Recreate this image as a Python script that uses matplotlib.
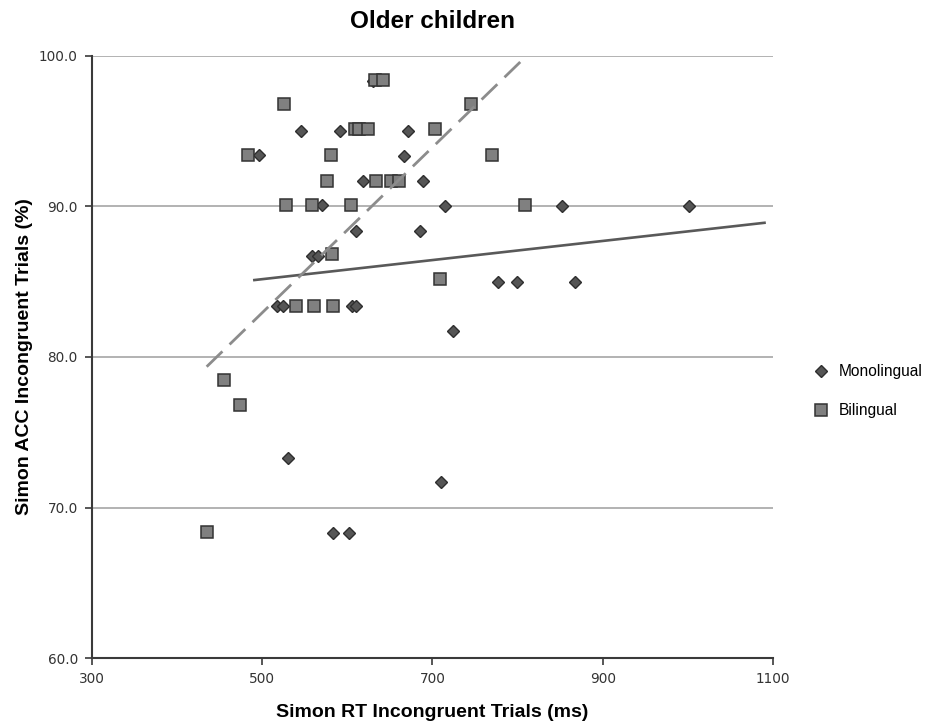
import matplotlib
matplotlib.use("Agg")
import matplotlib.pyplot as plt

# Monolingual children (diamonds)
mono_rt = [630, 545.6, 591, 671.6, 496, 666.4, 618.9, 652, 689, 570, 715.2, 852.4,
           1001.8, 610, 686, 559.2, 566.2, 517.5, 524.9, 605.3, 610, 776.7, 799.8,
           868, 724.1, 530, 710.5, 583.8, 602.1]
mono_acc = [98.3, 95.0, 95.0, 95.0, 93.4, 93.3, 91.7, 91.7, 91.7, 90.1, 90.0, 90.0,
            90.0, 88.35, 88.35, 86.7, 86.7, 83.4, 83.4, 83.4, 83.4, 85.0, 85.0,
            85.0, 81.7, 73.3, 71.7, 68.3, 68.3]

# Bilingual children (squares)
bi_rt = [632.9, 642.2, 526, 745.6, 608.7, 614, 624.6, 703.5, 484, 580.7, 769.7,
         576.8, 633.3, 650.9, 661.4, 527.8, 559, 604.8, 808.8, 582.6, 708.5,
         539.8, 561.2, 583.8, 455.9, 474.6, 435.2]
bi_acc = [98.4, 98.4, 96.8, 96.8, 95.1, 95.1, 95.1, 95.1, 93.4, 93.4, 93.4,
          91.7, 91.7, 91.7, 91.7, 90.1, 90.1, 90.1, 90.1, 86.8, 85.2,
          83.4, 83.4, 83.4, 78.5, 76.8, 68.4]

# linear trend lines (end points)
mono_trend_x = [491, 1090]
mono_trend_y = [85.1, 88.9]
bi_trend_x = [435, 811]
bi_trend_y = [79.35, 100.0]

x_ticks = [300, 500, 700, 900, 1100]
y_ticks = [60, 70, 80, 90, 100]

fig = plt.figure(figsize=(9.3, 7.23), dpi=100)
ax = fig.add_axes([0.0986, 0.0895, 0.7326, 0.8337])

ax.plot(mono_rt, mono_acc, linestyle="none", marker="D", markersize=6.2,
        markerfacecolor="#555555", markeredgecolor="#2e2e2e", markeredgewidth=1,
        label="Monolingual", zorder=3)
ax.plot(bi_rt, bi_acc, linestyle="none", marker="s", markersize=9.2,
        markerfacecolor="#808080", markeredgecolor="#333333", markeredgewidth=1.1,
        label="Bilingual", zorder=4)

ax.plot(mono_trend_x, mono_trend_y, color="#595959", linewidth=1.9, zorder=5)
ax.plot(bi_trend_x, bi_trend_y, color="#8c8c8c", linewidth=2.0,
        linestyle=(0, (7.9, 3.6)), zorder=5)

ax.set_xlim(300, 1100)
ax.set_ylim(60, 100)
ax.set_xticks(x_ticks)
ax.set_yticks(y_ticks)
ax.set_xticklabels([str(t) for t in x_ticks])
ax.set_yticklabels([f"{t:.1f}" for t in y_ticks])

for y in y_ticks[1:]:
    ax.axhline(y, color="#a6a6a6", linewidth=1.2, zorder=1)

for s in ["top", "right"]:
    ax.spines[s].set_visible(False)
for s in ["left", "bottom"]:
    ax.spines[s].set_color("#3a3a3a")
    ax.spines[s].set_linewidth(1.5)

ax.tick_params(direction="out", length=5, width=1.2, color="#3a3a3a",
               labelsize=9.8, labelcolor="#333333", pad=5)
for lab in ax.get_xticklabels() + ax.get_yticklabels():
    lab.set_family("DejaVu Sans")

ax.set_title("Older children", fontsize=17.5, fontweight="bold",
             family="Liberation Sans", pad=20)
ax.set_xlabel("Simon RT Incongruent Trials (ms)", fontsize=14, fontweight="bold",
              family="Liberation Sans", labelpad=13)
ax.set_ylabel("Simon ACC Incongruent Trials (%)", fontsize=14, fontweight="bold",
              family="Liberation Sans", labelpad=4)

leg = ax.legend(loc="center left", bbox_to_anchor=(1.057, 0.443), frameon=False,
                prop={"family": "Liberation Sans", "size": 11.2},
                handletextpad=0.5, labelspacing=1.55, handlelength=1.2,
                borderaxespad=0, borderpad=0)

fig.savefig("out.png", dpi=100, facecolor="white")
